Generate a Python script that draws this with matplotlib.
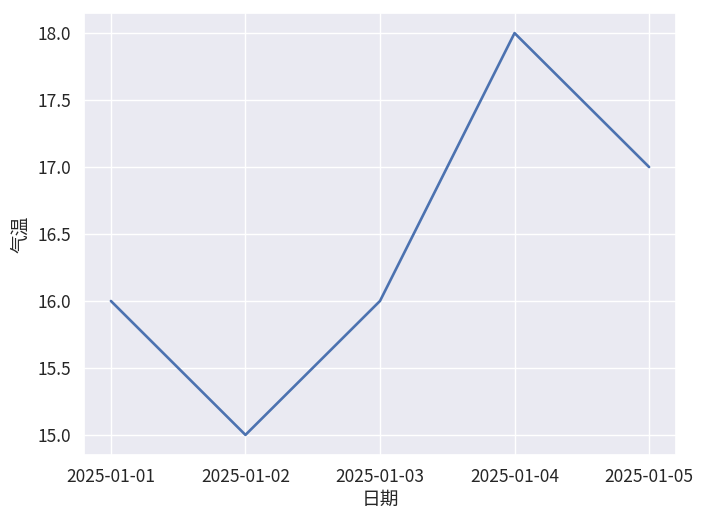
import matplotlib
matplotlib.use("Agg")
import matplotlib.pyplot as plt
import seaborn as sns
import pandas as pd

# 数据
dates = ["2025-01-01", "2025-01-02", "2025-01-03", "2025-01-04", "2025-01-05"]
temps = [16, 15, 16, 18, 17]

sns.set_theme(style="darkgrid")
plt.rcParams['font.family'] = ['Noto Sans CJK SC', 'DejaVu Sans']
plt.rcParams['axes.unicode_minus'] = False

df = pd.DataFrame({"日期": dates, "气温": temps})

fig = plt.figure(figsize=(7.09, 5.14), dpi=100)
ax = fig.add_axes([84 / 709, 1 - 455 / 514, (676 - 84) / 709, (455 - 13) / 514])
sns.lineplot(data=df, x="日期", y="气温", ax=ax, linewidth=1.9)
ax.tick_params(labelsize=12.5)
ax.set_xlabel("日期", fontsize=13.5, labelpad=2)
ax.set_ylabel("气温", fontsize=13.5, labelpad=4)

fig.savefig("out.png", dpi=100)
